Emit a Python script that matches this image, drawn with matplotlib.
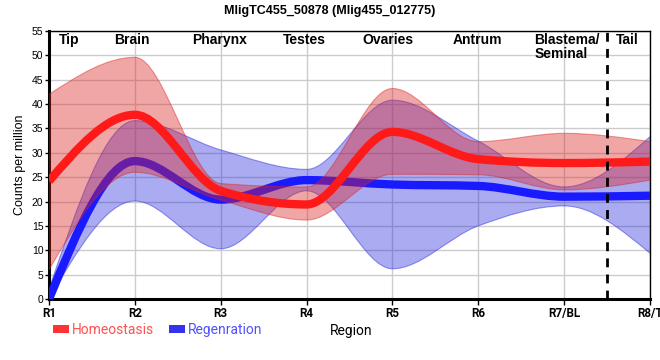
import numpy as np
import matplotlib
matplotlib.use("Agg")
import matplotlib.pyplot as plt
from matplotlib.path import Path
from matplotlib.patches import PathPatch, Patch
import matplotlib.transforms as mtransforms

# values (counts per million)
regions = ["R1", "R2", "R3", "R4", "R5", "R6", "R7/BL", "R8/T"]
tissues = ["Tip", "Brain", "Pharynx", "Testes", "Ovaries", "Antrum", "Blastema/\nSeminal", "Tail"]

homeo_mean = [24.2, 37.8, 22.2, 19.4, 34.3, 28.7, 27.9, 28.2]
homeo_upper = [42.0, 49.6, 23.7, 23.0, 43.2, 32.3, 34.0, 32.3]
homeo_lower = [6.0, 26.0, 20.3, 16.2, 25.6, 25.5, 22.4, 24.4]

regen_mean = [0.0, 28.3, 20.4, 24.4, 23.5, 23.2, 21.0, 21.2]
regen_upper = [2.0, 36.6, 30.6, 26.6, 40.8, 32.4, 23.0, 33.3]
regen_lower = [0.0, 20.1, 10.3, 22.2, 6.2, 15.0, 19.1, 9.4]


def monotone_tangents(x, y):
    # same slopes as d3.curveMonotoneX
    x = np.asarray(x, float)
    y = np.asarray(y, float)
    h = np.diff(x)
    s = np.diff(y) / h
    t = np.zeros(len(x))
    for i in range(1, len(x) - 1):
        p = (s[i - 1] * h[i] + s[i] * h[i - 1]) / (h[i - 1] + h[i])
        t[i] = (np.sign(s[i - 1]) + np.sign(s[i])) * min(abs(s[i - 1]), abs(s[i]), 0.5 * abs(p))
    t[0] = (3 * s[0] - t[1]) / 2
    t[-1] = (3 * s[-1] - t[-2]) / 2
    return t


def curve(x, y):
    t = monotone_tangents(x, y)
    verts = [(x[0], y[0])]
    codes = [Path.MOVETO]
    for i in range(len(x) - 1):
        dx = (x[i + 1] - x[i]) / 3
        verts += [(x[i] + dx, y[i] + dx * t[i]),
                  (x[i + 1] - dx, y[i + 1] - dx * t[i + 1]),
                  (x[i + 1], y[i + 1])]
        codes += [Path.CURVE4] * 3
    return verts, codes


def band(ax, x, lo, hi, color, alpha, z):
    v1, c1 = curve(x, hi)
    v2, c2 = curve(x[::-1], lo[::-1])
    c2[0] = Path.LINETO
    verts = v1 + v2 + [v1[0]]
    codes = c1 + c2 + [Path.CLOSEPOLY]
    ax.add_patch(PathPatch(Path(verts, codes), facecolor=color, alpha=alpha,
                           edgecolor="none", zorder=z))
    for yy in (hi, lo):
        v, c = curve(x, yy)
        ax.add_patch(PathPatch(Path(v, c), fill=False, edgecolor=color,
                               alpha=0.45, lw=0.8, zorder=z))


def line(ax, x, y, color, z):
    v, c = curve(x, y)
    ax.add_patch(PathPatch(Path(v, c), fill=False, edgecolor=color, lw=6,
                           capstyle="butt", joinstyle="round", zorder=z))


fig = plt.figure(figsize=(6.6, 3.6), dpi=100)
ax = fig.add_axes([49 / 660, 61 / 360, 601 / 660, 268 / 360])

x = np.arange(len(regions), dtype=float)

band(ax, x, np.array(regen_lower), np.array(regen_upper), "#2222dd", 0.38, 2)
line(ax, x, regen_mean, "#1a1aff", 3)
band(ax, x, np.array(homeo_lower), np.array(homeo_upper), "#dd2222", 0.40, 4)
line(ax, x, homeo_mean, "#ff1a1a", 5)

ax.set_xlim(0, len(regions) - 1)
ax.set_ylim(0, 55)
ax.set_yticks(np.arange(0, 56, 5))
ax.set_xticks(x)
ax.set_xticklabels(regions, fontfamily="Roboto", fontweight="bold", fontsize=8.4)
ax.tick_params(axis="y", labelsize=7.5, length=3, width=1, pad=1)
ax.tick_params(axis="x", length=4, width=1, pad=2)
for lab in ax.get_yticklabels():
    lab.set_fontfamily("Liberation Sans")
ax.grid(True, color="#cccccc", lw=1, zorder=0)
ax.set_axisbelow(True)

for side in ("left", "bottom"):
    ax.spines[side].set_linewidth(2.2)
for side in ("top", "right"):
    ax.spines[side].set_linewidth(1)

# dashed separator between R7/BL and R8/T
ax.axvline(6.5, color="black", lw=2, ls=(0, (3.2, 2.6)), zorder=6)

# tissue names along the top
tissue_x = [0.23, 0.97, 1.99, 2.97, 3.95, 4.99, 5.65, 6.73]
tissue_ha = ["center"] * 6 + ["left", "center"]
trans = mtransforms.blended_transform_factory(ax.transData, ax.transAxes)
for name, tx, ha in zip(tissues, tissue_x, tissue_ha):
    ax.text(tx, 0.992, name, transform=trans, ha=ha, va="top",
            fontsize=10, fontweight="bold", fontfamily="Liberation Sans",
            linespacing=1.0, zorder=7)

ax.set_ylabel("Counts per million", fontsize=9, fontfamily="Liberation Sans", labelpad=4)
ax.set_xlabel("Region", fontsize=10, fontfamily="Roboto")
ax.xaxis.set_label_coords(0.503, -0.095)

fig.suptitle("MligTC455_50878 (Mlig455_012775)", x=0.5, y=0.985, va="top",
             fontsize=9, fontweight="bold", fontfamily="Liberation Sans")

handles = [Patch(facecolor="#ff3333", edgecolor="none", label="Homeostasis"),
           Patch(facecolor="#3333ee", edgecolor="none", label="Regenration")]
fig.legend(handles=handles, loc="center left", bbox_to_anchor=(53 / 660, 30 / 360),
           ncol=2, frameon=False, borderpad=0, borderaxespad=0,
           handlelength=1.15, handleheight=0.45, handletextpad=0.2,
           columnspacing=1.1, labelcolor=["#ff5050", "#5050ff"],
           prop={"family": "Roboto", "size": 10})

fig.savefig("out.png", dpi=100)
